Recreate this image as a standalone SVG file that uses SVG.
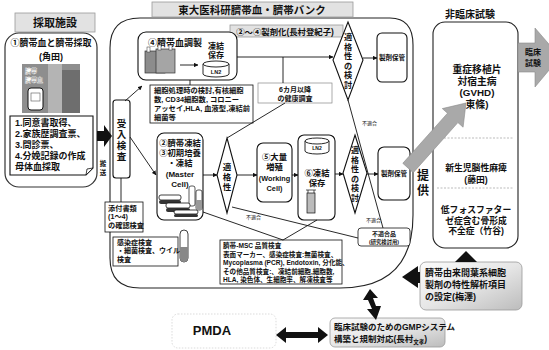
<svg xmlns="http://www.w3.org/2000/svg" width="549" height="350" viewBox="0 0 549 350">
<style>
text{font-family:"Liberation Sans","Noto Sans CJK JP",sans-serif;font-weight:bold;fill:#111}
.c{text-anchor:middle}
.box{fill:#fff;stroke:#111;stroke-width:1.1}
.thin{fill:#fff;stroke:#111;stroke-width:0.8}
.ln{fill:none;stroke:#111;stroke-width:0.9}
.lab{fill:#e2e2e2;stroke:#9a9a9a;stroke-width:0.8}
.dash{fill:none;stroke:#aaa;stroke-width:0.8;stroke-dasharray:2 1.5}
.blk{fill:#111}
.gray{fill:#a9a9a9;stroke:#8a8a8a;stroke-width:0.6}
.ng{font-size:5px;font-weight:normal}
</style>
<defs>
<marker id="ah" viewBox="0 0 8 8" refX="7.5" refY="4" markerWidth="5" markerHeight="5" orient="auto"><path d="M0,0 L8,4 L0,8 Z" fill="#111"/></marker>
<linearGradient id="gbox" x1="0" y1="0" x2="1" y2="1"><stop offset="0" stop-color="#fbfbfb"/><stop offset="0.5" stop-color="#e6e6e6"/><stop offset="1" stop-color="#bcbcbc"/></linearGradient>
</defs>

<!-- collection site -->
<g id="collection">
<rect class="lab" x="15" y="13" width="80" height="19"/>
<text class="c" x="55" y="27" font-size="11">採取施設</text>
<rect x="5" y="33" width="92" height="154" rx="14" fill="#fff" stroke="#333" stroke-width="1.2"/>
<text class="c" x="51" y="46" font-size="9"><tspan x="51">①臍帯血と臍帯採取</tspan><tspan x="51" dy="14">(角田)</tspan></text>
<rect x="22" y="64" width="58" height="49" fill="#8e8e8e"/>
<rect x="48" y="64" width="14" height="49" fill="#b4b4b4"/>
<rect x="62" y="70" width="18" height="43" fill="#6e6e6e"/>
<text x="25" y="73" font-size="6" fill="#111" stroke="#fff" stroke-width="0.4"><tspan x="25">臍帯</tspan><tspan x="25" dy="9">臍帯血</tspan></text>
<rect x="28" y="88" width="15" height="22" rx="3" fill="#fff" stroke="#111" stroke-width="1"/>
<rect x="31" y="93" width="9" height="8" fill="none" stroke="#555" stroke-width="0.6"/>
<path d="M10,116 H93 V168 L86,175 H10 Z" fill="#fff" stroke="#111" stroke-width="1.1"/>
<path d="M93,168 L86,175 L87,169 Z" fill="#fff" stroke="#111" stroke-width="0.8"/>
<text x="15" y="125.5" font-size="9"><tspan x="15">1.同意書取得、</tspan><tspan x="15" dy="11">2.家族歴調査票、</tspan><tspan x="15" dy="11">3.問診票、</tspan><tspan x="15" dy="11">4.分娩記録の作成</tspan><tspan x="15" dy="11">母体血採取</tspan></text>
</g>

<!-- bank outline and titles -->
<g id="bank">
<path d="M110,48 Q110,18 140,18 H390 Q413,18 413,45 V215 Q413,288 340,288 H140 Q110,288 110,258 Z" fill="none" stroke="#222" stroke-width="1.1"/>
<rect class="lab" x="152" y="2" width="201" height="15"/>
<text class="c" x="252" y="14" font-size="10.5">東大医科研臍帯血・臍帯バンク</text>
<rect class="lab" x="230" y="25" width="113" height="12"/>
<text class="c" x="285" y="34.5" font-size="8.4">②～④製剤化(長村登紀子)</text>
</g>

<g id="prep">
<rect class="box" x="138" y="32" width="99" height="48" rx="8"/>
<text class="c" x="175" y="46" font-size="9">④臍帯血調製</text>
<rect x="145" y="51" width="20" height="22" fill="#8c8c8c" stroke="#333" stroke-width="0.7"/>
<rect x="156" y="49" width="19" height="24" fill="#a5a5a5" stroke="#333" stroke-width="0.7"/>
<rect x="147" y="47" width="3" height="5" fill="#fff" stroke="#333" stroke-width="0.5"/>
<rect x="158" y="45" width="3" height="5" fill="#fff" stroke="#333" stroke-width="0.5"/>
<rect x="169" y="45" width="3" height="5" fill="#fff" stroke="#333" stroke-width="0.5"/>
<line class="ln" x1="180" y1="65" x2="198" y2="65" marker-end="url(#ah)"/>
<text class="c" x="216" y="48.5" font-size="8"><tspan x="216">凍結</tspan><tspan x="216" dy="9.4">保存</tspan></text>
<path d="M203,64 V74 A13,3 0 0 0 229,74 V64" fill="#fff" stroke="#111" stroke-width="0.9"/>
<ellipse cx="216" cy="64" rx="13" ry="3" fill="#fff" stroke="#111" stroke-width="0.9"/>
<text class="c" x="216" y="73.5" font-size="5.5">LN2</text>
</g>

<g id="prep-check">
<rect class="thin" x="150" y="85" width="103" height="38"/>
<text x="154" y="93" font-size="7.3"><tspan x="154">細胞処理時の検討,有核細胞</tspan><tspan x="154" dy="9">数, CD34細胞数, コロニー</tspan><tspan x="154" dy="9">アッセイ,HLA, 血液型,凍結前</tspan><tspan x="154" dy="9">細菌等</tspan></text>
</g>

<g id="followup">
<rect x="258" y="83" width="74" height="20" fill="#fff" stroke="#888" stroke-width="0.7"/>
<text class="c" x="295" y="91.5" font-size="7" font-weight="normal"><tspan x="295">6カ月以降</tspan><tspan x="295" dy="9">の健康調査</tspan></text>
</g>

<g id="check1">
<polygon class="box" points="348,22 363,60 348,100 333,60"/>
<text class="c" font-size="8.2" x="348 348 348 348 348 348" y="40 49.6 59.2 68.8 78.4 88">適格性の検討</text>
</g>

<g id="store1">
<rect class="box" x="377" y="33" width="30" height="49" rx="5"/>
<text class="c" x="392" y="60" font-size="6.5">製剤保管</text>
</g>

<g id="intake">
<rect class="box" x="113" y="100" width="17" height="78" rx="3"/>
<text class="c" font-size="9.5" x="121.5 121.5 121.5 121.5" y="127 138 149 160">受入検査</text>
</g>

<g id="docs-check">
<rect class="thin" x="105" y="202" width="38" height="30"/>
<text x="108" y="210.5" font-size="7.2"><tspan x="108">添付書類</tspan><tspan x="108" dy="8.5">(1～4)</tspan><tspan x="108" dy="8.5">の確認検査</tspan></text>
</g>

<g id="infection">
<rect class="thin" x="113" y="237" width="65" height="29"/>
<text x="117" y="245" font-size="7"><tspan x="117">感染症検査</tspan><tspan x="117" dy="8.3">・細菌検査、ウイルス</tspan><tspan x="117" dy="8.3">検査</tspan></text>
<rect x="180" y="230" width="8" height="32" rx="4" fill="#fff" stroke="#111" stroke-width="0.8"/>
<path d="M180,247 H188 V258 A4,4 0 0 1 180,258 Z" fill="#888"/>
</g>

<g id="master">
<rect class="box" x="157" y="133" width="46" height="87" rx="7"/>
<text class="c" x="180" y="146" font-size="8.3"><tspan x="180">②臍帯凍結</tspan><tspan x="180" dy="10">③初期培養</tspan><tspan x="180" dy="10">・凍結</tspan><tspan x="180" dy="11" font-size="8">(Master</tspan><tspan x="180" dy="10" font-size="8">Cell)</tspan></text>
<rect x="189" y="186" width="6" height="20" rx="2" fill="#fff" stroke="#111" stroke-width="0.7"/>
<rect x="196" y="190" width="6" height="20" rx="2" fill="#fff" stroke="#111" stroke-width="0.7"/>
<rect x="196" y="200" width="6" height="10" fill="#999"/>
<rect x="159" y="195" width="22" height="5" rx="2" fill="#fff" stroke="#111" stroke-width="0.8"/>
<rect x="159" y="200" width="22" height="4" rx="2" fill="#333"/>
<rect x="166" y="203" width="24" height="5" rx="2" fill="#fff" stroke="#111" stroke-width="0.8"/>
<rect x="166" y="208" width="24" height="4" rx="2" fill="#333"/>
<rect x="174" y="210" width="24" height="4" rx="2" fill="#fff" stroke="#111" stroke-width="0.8"/>
<rect x="174" y="214" width="24" height="3" rx="1.5" fill="#333"/>
</g>

<g id="check2">
<polygon class="box" points="227,138 237,175 227,213 217,175"/>
<text class="c" font-size="8.5" x="227 227 227" y="170 180 190">適格性</text>
</g>

<g id="working">
<rect class="box" x="257" y="143" width="35" height="59" rx="6"/>
<text class="c" x="274.5" y="160" font-size="8.3"><tspan x="274.5">⑤大量</tspan><tspan x="274.5" dy="10">増殖</tspan><tspan x="274.5" dy="11" font-size="7.3">(Working</tspan><tspan x="274.5" dy="10" font-size="7.3">Cell)</tspan></text>
</g>

<g id="freeze">
<rect class="box" x="298" y="135" width="37" height="85" rx="6"/>
<path d="M305,141 V151 A12,3 0 0 0 329,151 V141" fill="#fff" stroke="#111" stroke-width="0.9"/>
<ellipse cx="317" cy="141" rx="12" ry="3" fill="#fff" stroke="#111" stroke-width="0.9"/>
<text class="c" x="317" y="150" font-size="5">LN2</text>
<text class="c" x="317" y="176" font-size="8.3"><tspan x="317">⑥凍結</tspan><tspan x="317" dy="10">保存</tspan></text>
<rect x="307" y="193" width="8" height="20" fill="#bbb" stroke="#111" stroke-width="0.7"/>
<path d="M306,190 H316 M308,190 V193 M314,190 V193" stroke="#111" stroke-width="0.7" fill="none"/>
</g>

<g id="check3">
<polygon class="box" points="355,135 367,173 355,213 343,173"/>
<text class="c" font-size="8" x="355 355 355 355 355 355" y="153 162.6 172.2 181.8 191.4 201">適格性の検討</text>
</g>

<g id="store2">
<rect class="box" x="378" y="147" width="32" height="53" rx="6"/>
<text class="c" x="394" y="176" font-size="6.5">製剤保管</text>
</g>

<g id="reject">
<rect class="thin" x="358" y="228" width="52" height="18" rx="3"/>
<text class="c" x="384" y="236" font-size="6"><tspan x="384">不適合品</tspan><tspan x="384" dy="7.5" font-size="5.3">(研究検討用)</tspan></text>
</g>

<g id="msc-qc">
<rect class="thin" x="220" y="240" width="122" height="44"/>
<text x="223" y="248" font-size="6.6"><tspan x="223">臍帯-MSC 品質検査</tspan><tspan x="223" dy="8.5">表面マーカー、感染症検査:無菌検査、</tspan><tspan x="223" dy="8.5">Mycoplasma (PCR), Endotoxin, 分化能、</tspan><tspan x="223" dy="8.5">その他品質検査:、凍結前細胞,細胞数,</tspan><tspan x="223" dy="8.5">HLA, 染色体、生細胞率、解凍検査等</tspan></text>
</g>

<!-- non-clinical studies -->
<g id="nonclinical">
<text class="c" x="470" y="18" font-size="10">非臨床試験</text>
<rect x="433" y="22" width="85" height="226" rx="12" fill="#fff" stroke="#222" stroke-width="1.1"/>
<path class="dash" d="M437,138 H514"/>
<path class="dash" d="M437,188 H514"/>
<text class="c" x="477" y="73" font-size="9.8"><tspan x="477">重症移植片</tspan><tspan x="477" dy="11.5">対宿主病</tspan><tspan x="477" dy="11.5">(GVHD)</tspan><tspan x="477" dy="11.5">東條)</tspan></text>
<text class="c" x="476" y="171" font-size="8.8"><tspan x="476">新生児脳性麻痺</tspan><tspan x="476" dy="12">(藤田)</tspan></text>
<text class="c" x="476" y="213" font-size="8.8"><tspan x="476">低フォスファター</tspan><tspan x="476" dy="10.5">ゼ症含む骨形成</tspan><tspan x="476" dy="10.5">不全症（竹谷)</tspan></text>
</g>

<g id="clinical">
<polygon class="gray" points="518,43 535,43 535,28 560,57 535,87 535,72 518,72"/>
<text class="c" x="533" y="55" font-size="8" fill="#fff"><tspan x="533">臨床</tspan><tspan x="533" dy="11">試験</tspan></text>
</g>

<g id="supply">
<polygon class="gray" points="413.2,172.7 457.9,122.6 463.1,127.2 466,103 442.3,108.6 447.5,113.2 402.8,163.3"/>
<text class="c" font-size="12" x="423 423" y="180 195">提供</text>
</g>

<g id="characterization">
<rect x="420" y="262" width="102" height="48" rx="6" fill="url(#gbox)" stroke="#999" stroke-width="0.8"/>
<text x="425" y="276" font-size="9"><tspan x="425">臍帯由来間葉系細胞</tspan><tspan x="425" dy="12">製剤の特性解析項目</tspan><tspan x="425" dy="12">の設定(梅澤)</tspan></text>
</g>

<g id="pmda">
<rect x="172" y="314" width="104" height="34" rx="6" fill="#fff" stroke="#ccc" stroke-width="0.7" stroke-dasharray="1.5 1.5"/>
<text class="c" x="212" y="335" font-size="13">PMDA</text>
</g>

<g id="gmp">
<rect x="330" y="318" width="115" height="29" rx="5" fill="url(#gbox)" stroke="#999" stroke-width="0.8"/>
<text x="334" y="330" font-size="8.5"><tspan x="334">臨床試験のためのGMPシステム</tspan><tspan x="334" dy="12">構築と規制対応(長村</tspan><tspan font-size="5.5" dy="2">文孝</tspan><tspan dy="-2">)</tspan></text>
</g>

<!-- connectors -->
<g id="connectors">
<polygon class="blk" points="97,131 104,131 104,125 112,136 104,147 104,141 97,141"/>
<text class="c" font-size="6.5" x="103 103" y="166 175">搬送</text>
<line class="ln" x1="125" y1="101" x2="142" y2="86" marker-end="url(#ah)"/>
<line class="ln" x1="130" y1="137" x2="156" y2="175" marker-end="url(#ah)"/>
<line class="ln" x1="121" y1="178" x2="121" y2="202"/>
<line class="ln" x1="190" y1="80" x2="190" y2="85"/>
<line class="ln" x1="237" y1="57" x2="333" y2="57" marker-end="url(#ah)"/>
<line class="ln" x1="283" y1="57" x2="283" y2="83"/>
<line class="ln" x1="363" y1="58" x2="377" y2="58" marker-end="url(#ah)"/>
<line class="ln" x1="227" y1="138" x2="285" y2="103"/>
<line class="ln" x1="203" y1="175" x2="217" y2="175" marker-end="url(#ah)"/>
<line class="ln" x1="237" y1="175" x2="257" y2="175" marker-end="url(#ah)"/>
<line class="ln" x1="292" y1="175" x2="298" y2="175" marker-end="url(#ah)"/>
<line class="ln" x1="335" y1="174" x2="343" y2="174" marker-end="url(#ah)"/>
<line class="ln" x1="367" y1="174" x2="378" y2="174" marker-end="url(#ah)"/>
<line class="ln" x1="348" y1="100" x2="383" y2="228"/>
<line class="ln" x1="232" y1="207" x2="358" y2="238"/>
<line class="ln" x1="283" y1="240" x2="203" y2="212"/>
<line class="ln" x1="283" y1="240" x2="317" y2="220"/>
<text class="ng" x="362" y="125">不適合</text>
<text class="ng" x="366" y="222">不適合</text>
<text class="ng" x="246" y="219">不適合</text>
<polygon class="blk" points="402,277 418,266 418,272 420,272 420,283 418,283 418,288"/>
<polygon class="blk" points="466,251 477,262 455,262"/>
<polygon class="blk" points="370,289 363,300 368,300 372,309 367,309 376,320 381,306 376,306 373,298 378,298"/>
<polygon class="blk" points="276,335 286,327 286,332 318,332 318,327 328,335 318,343 318,338 286,338 286,343"/>
</g>
</svg>
